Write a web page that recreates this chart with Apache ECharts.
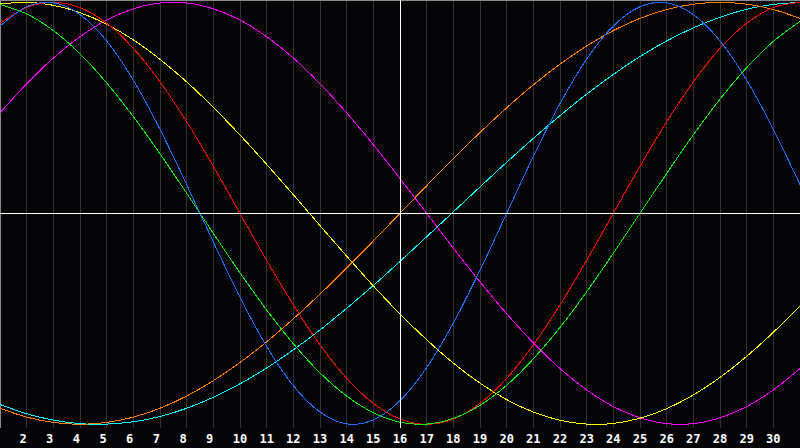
<!DOCTYPE html>
<html>
<head>
<meta charset="utf-8">
<script src="https://cdn.jsdelivr.net/npm/echarts@6/dist/echarts.min.js"></script>
<style>
html,body{margin:0;padding:0;background:#050508;}
#chart{width:800px;height:448px;}
#chart path{shape-rendering:crispEdges;}
</style>
</head>
<body>
<div id="chart"></div>
<script>
// Days shown on the x axis (1 .. 31)
const days = [1,2,3,4,5,6,7,8,9,10,11,12,13,14,15,16,17,18,19,20,21,22,23,24,25,26,27,28,29,30,31];
const today = 16;

// Cycle values per day (-1 .. 1)
const blueValues    = [0.888,0.979,0.998,0.942,0.817,0.631,0.398,0.136,-0.136,-0.398,-0.631,-0.817,-0.942,-0.998,-0.979,-0.888,-0.731,-0.520,-0.270,0,0.270,0.520,0.731,0.888,0.979,0.998,0.942,0.817,0.631,0.398,0.136];
const redValues     = [0.901,0.975,1,0.975,0.901,0.782,0.623,0.434,0.223,0,-0.223,-0.434,-0.623,-0.782,-0.901,-0.975,-1,-0.975,-0.901,-0.782,-0.623,-0.434,-0.223,0,0.223,0.434,0.623,0.782,0.901,0.975,1];
const greenValues   = [0.990,0.945,0.866,0.756,0.618,0.458,0.282,0.095,-0.095,-0.282,-0.458,-0.618,-0.756,-0.866,-0.945,-0.990,-0.999,-0.972,-0.910,-0.815,-0.690,-0.541,-0.372,-0.189,0,0.189,0.372,0.541,0.690,0.815,0.910];
const yellowValues  = [0.992,1.000,0.986,0.951,0.896,0.822,0.730,0.623,0.502,0.371,0.232,0.088,-0.058,-0.203,-0.344,-0.477,-0.599,-0.710,-0.805,-0.883,-0.942,-0.981,-0.999,-0.996,-0.971,-0.926,-0.861,-0.778,-0.678,-0.564,-0.438];
const magentaValues = [0.476,0.614,0.736,0.837,0.916,0.969,0.997,0.997,0.969,0.916,0.837,0.736,0.614,0.476,0.325,0.165,0,-0.165,-0.325,-0.476,-0.614,-0.736,-0.837,-0.916,-0.969,-0.997,-0.997,-0.969,-0.916,-0.837,-0.736];
const orangeValues  = [-0.924,-0.966,-0.991,-1,-0.991,-0.966,-0.924,-0.866,-0.793,-0.707,-0.609,-0.5,-0.383,-0.259,-0.131,0,0.131,0.259,0.383,0.5,0.609,0.707,0.793,0.866,0.924,0.966,0.991,1,0.991,0.966,0.924];
const cyanValues    = [-0.906,-0.950,-0.980,-0.997,-0.999,-0.988,-0.963,-0.924,-0.872,-0.808,-0.733,-0.647,-0.553,-0.450,-0.342,-0.228,-0.111,0.007,0.125,0.242,0.355,0.463,0.565,0.658,0.743,0.817,0.879,0.929,0.967,0.990,1.000];

const seriesDefs = [
  {name:'cyan',    color:'#00ffff', values:cyanValues},
  {name:'orange',  color:'#ff8000', values:orangeValues},
  {name:'magenta', color:'#ff00ff', values:magentaValues},
  {name:'yellow',  color:'#ffff00', values:yellowValues},
  {name:'red',     color:'#ff0000', values:redValues},
  {name:'green',   color:'#11ee11', values:greenValues},
  {name:'blue',    color:'#1e6eff', values:blueValues}
];

const chart = echarts.init(document.getElementById('chart'), null, {renderer:'svg'});

// Smooth curve through the daily points (Catmull-Rom), positioned by the axes' scales
function makeRenderer(values, color) {
  return function (params, api) {
    const pts = days.map((d, i) => api.coord([d, values[i]]));
    const n = pts.length;
    let path = 'M' + pts[0][0] + ',' + pts[0][1];
    for (let i = 0; i < n - 1; i++) {
      const p0 = pts[Math.max(i - 1, 0)];
      const p1 = pts[i];
      const p2 = pts[i + 1];
      const p3 = pts[Math.min(i + 2, n - 1)];
      const c1x = p1[0] + (p2[0] - p0[0]) / 6;
      const c1y = p1[1] + (p2[1] - p0[1]) / 6;
      const c2x = p2[0] - (p3[0] - p1[0]) / 6;
      const c2y = p2[1] - (p3[1] - p1[1]) / 6;
      path += ' C' + c1x + ',' + c1y + ' ' + c2x + ',' + c2y + ' ' + p2[0] + ',' + p2[1];
    }
    return {
      type: 'path',
      silent: true,
      shape: {pathData: path},
      style: {stroke: color, fill: 'none', lineWidth: 1}
    };
  };
}

const series = seriesDefs.map(s => ({
  name: s.name,
  type: 'custom',
  silent: true,
  clip: true,
  z: 3,
  renderItem: makeRenderer(s.values, s.color),
  data: [[days[0], s.values[0]]]
}));

series.unshift({
  type: 'line',
  data: [],
  z: 2,
  silent: true,
  markLine: {
    silent: true,
    symbol: ['none','none'],
    label: {show: false},
    animation: false,
    lineStyle: {color: '#ffffff', width: 1, type: 'solid'},
    data: [{yAxis: 0}, {xAxis: today}]
  }
});

chart.setOption({
  backgroundColor: '#050508',
  animation: false,
  grid: {left: 0, right: 0, top: 0, bottom: 20, containLabel: false, outerBoundsMode: 'none'},
  xAxis: [{
    type: 'value',
    min: 1,
    max: 31,
    interval: 1,
    axisLine: {show: true, lineStyle: {color: '#9a9a9a', width: 1}},
    axisTick: {show: false},
    splitLine: {show: true, lineStyle: {color: '#333333', width: 1}},
    axisLabel: {
      color: '#ffffff',
      fontFamily: 'DejaVu Sans Mono',
      fontWeight: 'bold',
      fontSize: 12,
      margin: 5,
      hideOverlap: false,
      formatter: v => (v >= 2 && v <= 30) ? String(v).padEnd(2, '\u00a0') : ''
    }
  }, {
    type: 'value',
    position: 'top',
    min: 1,
    max: 31,
    axisLine: {show: true, lineStyle: {color: '#8a8a8a', width: 1}},
    axisTick: {show: false},
    axisLabel: {show: false},
    splitLine: {show: false}
  }],
  yAxis: {
    type: 'value',
    min: -1.0175,
    max: 1.011,
    axisLine: {show: true, lineStyle: {color: '#8a8a8a', width: 1}},
    axisTick: {show: false},
    axisLabel: {show: false},
    splitLine: {show: false}
  },
  series: series
});
</script>
</body>
</html>
